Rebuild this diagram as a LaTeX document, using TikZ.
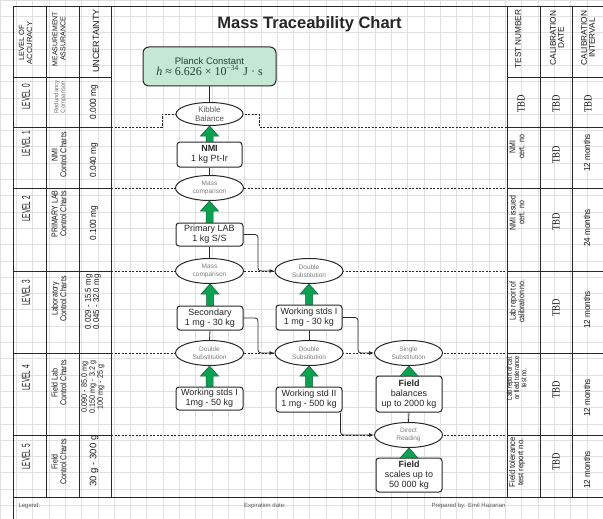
\documentclass[tikz,border=0pt]{standalone}
\usepackage{fontspec}
\setmainfont{Liberation Sans}
\newfontfamily\condA{Liberation Sans}[FakeStretch=0.56]
\newfontfamily\condB{Liberation Sans}[FakeStretch=0.82]
\newfontfamily\condC{Liberation Sans}[FakeStretch=0.92]
\newfontfamily\serifcond{Liberation Serif}[FakeStretch=0.8]
\newfontfamily\serifplain{Liberation Serif}
\usetikzlibrary{shapes.geometric,arrows.meta,calc}

\definecolor{gridgray}{RGB}{224,224,224}
\definecolor{rulegray}{RGB}{40,40,40}
\definecolor{mint}{RGB}{196,232,212}
\definecolor{mintink}{RGB}{30,70,50}
\definecolor{arrowfill}{RGB}{10,162,80}
\definecolor{arrowedge}{RGB}{20,95,55}
\definecolor{ovaltext}{RGB}{125,125,125}

\tikzset{
  gridline/.style={gridgray, line width=0.5pt},
  rule/.style={rulegray, line width=0.9pt},
  stdbox/.style={draw=rulegray, line width=1pt, rounded corners=3pt, fill=white,
    align=center, inner sep=0pt, text=black!85, font=\fontsize{9}{10.2}\selectfont},
  oval/.style={ellipse, draw=rulegray, line width=1pt, fill=white, inner sep=0pt,
    minimum width=68pt, minimum height=25pt, align=center, text=ovaltext,
    font=\fontsize{6.5}{8.5}\selectfont},
  levelline/.style={rulegray, line width=0.8pt, dash pattern=on 2.2pt off 1.3pt},
  link/.style={rulegray, line width=0.8pt},
  feed/.style={rulegray, line width=0.8pt, rounded corners=3pt, -{Latex[length=5pt,width=4pt]}},
  uptag/.style={rotate=90, align=center, inner sep=0pt, text=black!90},
  liftarrow/.style={fill=arrowfill, draw=arrowedge, line width=0.5pt, line join=miter},
}
% green block arrow from the top of #1 up to the bottom of #2
\newcommand\liftarrow[2]{%
  \filldraw[liftarrow] let \p1=(#1.north), \p2=(#2.south) in
    (\x1-3.5pt,\y1) -- (\x1-3.5pt,\y2-10pt) -- (\x1-9pt,\y2-10pt) -- (\x1,\y2)
    -- (\x1+9pt,\y2-10pt) -- (\x1+3.5pt,\y2-10pt) -- (\x1+3.5pt,\y1) -- cycle;}

\begin{document}
\begin{tikzpicture}[x=1pt,y=-1pt]
\useasboundingbox (0,0) rectangle (603,519);
\fill[white] (0,0) rectangle (603,519);

% drawing-sheet grid
\foreach \i in {0,...,37} \draw[gridline] (\i*16.3,0) -- (\i*16.3,519);
\foreach \j in {0,...,31} \draw[gridline] (0,\j*16.3) -- (603,\j*16.3);

% table frame
\draw[rule] (13,519) -- (13,6) -- (606,6);
\draw[rule] (13,497) -- (606,497);
\foreach \x in {46,79,111,507,540,572} \draw[rule] (\x,6) -- (\x,497);
\foreach \y in {77,127,188,271,353,435} {
  \draw[rule] (13,\y) -- (111,\y);
  \draw[rule] (507,\y) -- (606,\y);
}

% title
\node[font=\bfseries\fontsize{16.5}{18}\selectfont, text=black!85, anchor=base] (title) at (309.5,28.5) {Mass Traceability Chart};

% left columns: headers
\node[uptag, font=\fontsize{7.5}{8}\selectfont] (hacc) at (25.5,43) {LEVEL OF\\ACCURACY};
\node[uptag, font=\fontsize{7}{8}\selectfont] (hmas) at (59,39) {MEASUREMENT\\ASSURANCE};
\node[uptag, font=\fontsize{9}{10}\selectfont] (hunc) at (96,41) {UNCERTAINTY};

% left columns: level names
\node[uptag, font=\condA\fontsize{11.5}{12}\selectfont] (lv0) at (26,97) {LEVEL 0};
\node[uptag, font=\condA\fontsize{11.5}{12}\selectfont] (lv1) at (26,144) {LEVEL 1};
\node[uptag, font=\condA\fontsize{11.5}{12}\selectfont] (lv2) at (26,209) {LEVEL 2};
\node[uptag, font=\condA\fontsize{11.5}{12}\selectfont] (lv3) at (26,293) {LEVEL 3};
\node[uptag, font=\condA\fontsize{11.5}{12}\selectfont] (lv4) at (26,378) {LEVEL 4};
\node[uptag, font=\condA\fontsize{11.5}{12}\selectfont] (lv5) at (26,457) {LEVEL 5};

% left columns: measurement assurance
\node[uptag, text=black!55, font=\fontsize{6}{6.5}\selectfont] (ma0) at (60,97) {Redundancy\\Comparison};
\node[uptag, font=\condB\fontsize{8.6}{8.8}\selectfont] (ma1) at (59,155) {NMI\\Control Charts};
\node[uptag, font=\condB\fontsize{8.6}{8.8}\selectfont] (ma2) at (59,214) {PRIMARY LAB\\Control Charts};
\node[uptag, font=\condB\fontsize{8.6}{8.8}\selectfont] (ma3) at (59,299) {Laboratory\\Control Charts};
\node[uptag, font=\condB\fontsize{8.6}{8.8}\selectfont] (ma4) at (59,383) {Field Lab\\Control Charts};
\node[uptag, font=\condB\fontsize{8.6}{8.8}\selectfont] (ma5) at (59,462) {Field\\Control Charts};

% left columns: uncertainty
\node[uptag, font=\condC\fontsize{9}{9}\selectfont] (un0) at (94,102) {0.000 mg};
\node[uptag, font=\condC\fontsize{9}{9}\selectfont] (un1) at (94,160) {0.040 mg};
\node[uptag, font=\condC\fontsize{9}{9}\selectfont] (un2) at (94,223) {0.100 mg};
\node[uptag, font=\condC\fontsize{8.5}{8.2}\selectfont] (un3) at (93,302) {0.029 - 15.5 mg\\0.045 - 32.0 mg};
\node[uptag, font=\condC\fontsize{7.8}{6.8}\selectfont] (un4) at (93,387) {0.090 - 85.0 mg\\0.150 mg - 3.2 g\\100 mg - 25 g};
\node[uptag, font=\fontsize{9.5}{10}\selectfont] (un5) at (94,461) {30 g - 300 g};

% right columns: headers
\node[uptag, font=\fontsize{8.2}{9}\selectfont] (htest) at (518,39) {TEST NUMBER};
\node[uptag, font=\fontsize{8.3}{8}\selectfont] (hdate) at (557,38) {CALIBRATION\\DATE};
\node[uptag, font=\fontsize{8.3}{8}\selectfont] (hint) at (588,38) {CALIBRATION\\INTERVAL};

% right columns: test number
\node[uptag, font=\serifcond\fontsize{11}{11}\selectfont] (tn0) at (521,104) {TBD};
\node[uptag, font=\condB\fontsize{8.5}{8.8}\selectfont] (tn1) at (517,147) {NMI\\cert. no};
\node[uptag, font=\condB\fontsize{8.5}{8.8}\selectfont] (tn2) at (517,213) {NMI issued\\cert. no};
\node[uptag, font=\condB\fontsize{8.5}{8.8}\selectfont] (tn3) at (517,301) {Lab report of\\calibration no.};
\node[uptag, font=\condB\fontsize{7.2}{7.2}\selectfont] (tn4) at (516.5,378) {Lab report of cal.\\or field tolerance\\test no.};
\node[uptag, font=\condC\fontsize{8.3}{8.3}\selectfont] (tn5) at (517,462) {Field tolerance\\test report no.};

% right columns: calibration date
\node[uptag, font=\serifcond\fontsize{11}{11}\selectfont] (cd0) at (556,104) {TBD};
\node[uptag, font=\serifcond\fontsize{11}{11}\selectfont] (cd1) at (556,155) {TBD};
\node[uptag, font=\serifcond\fontsize{11}{11}\selectfont] (cd2) at (556,222) {TBD};
\node[uptag, font=\serifcond\fontsize{11}{11}\selectfont] (cd3) at (556,308) {TBD};
\node[uptag, font=\serifcond\fontsize{11}{11}\selectfont] (cd4) at (556,390) {TBD};
\node[uptag, font=\serifcond\fontsize{11}{11}\selectfont] (cd5) at (556,462) {TBD};

% right columns: calibration interval
\node[uptag, font=\serifcond\fontsize{11}{11}\selectfont] (ci0) at (588,104) {TBD};
\node[uptag, font=\condC\fontsize{8.8}{9}\selectfont] (ci1) at (587,153) {12 months};
\node[uptag, font=\condC\fontsize{8.8}{9}\selectfont] (ci2) at (587,228) {24 months};
\node[uptag, font=\condC\fontsize{8.8}{9}\selectfont] (ci3) at (587,310) {12 months};
\node[uptag, font=\condC\fontsize{8.8}{9}\selectfont] (ci4) at (587,398) {12 months};
\node[uptag, font=\condC\fontsize{8.8}{9}\selectfont] (ci5) at (587,470) {12 months};

% footer
\node[anchor=west, font=\fontsize{6}{7}\selectfont, text=black!65] (legend) at (15,506) {Legend:};
\node[font=\fontsize{6}{7}\selectfont, text=black!65] (expiry) at (265,506) {Expiration date:};
\node[anchor=west, font=\fontsize{6}{7}\selectfont, text=black!65] (author) at (428,506) {Prepared by: Emil Hazarian};

% free ends of the level separators and connector bends
\coordinate (b0l) at (111,127); \coordinate (b0r) at (507,127);
\coordinate (s0a) at (162,127); \coordinate (s0b) at (259,127);
\coordinate (b1l) at (111,188); \coordinate (b1r) at (507,188);
\coordinate (b2l) at (111,271); \coordinate (b2r) at (507,271);
\coordinate (b3l) at (111,353); \coordinate (b3r) at (507,353);
\coordinate (b4l) at (111,435); \coordinate (b4r) at (507,435);
\coordinate (j1) at (258,271);
\coordinate (j2) at (258,353);
\coordinate (j3) at (358,353);

% level separators (drawn first so that the ovals sit on them)
\draw[levelline] (b0l) -- (s0a) |- (209.5,114);
\draw[levelline] (209.5,114) -| (s0b) -- (b0r);
\draw[levelline] (b1l) -- (b1r);
\draw[levelline] (b2l) -- (b2r);
\draw[levelline] (b3l) -- (b3r);
\draw[levelline] (b4l) -- (b4r);

% Planck constant and the standards chain
\node[stdbox, fill=mint, rounded corners=6pt, minimum width=133pt, minimum height=39pt, text=mintink] (planck) at (209.5,66.5)
  {\fontsize{9.5}{11}\selectfont Planck Constant\\[1pt]
   {\serifplain\fontsize{12}{13}\selectfont\textit{h} ≈ 6.626 × 10\raisebox{4.5pt}{\fontsize{7.5}{8}\selectfont −34}\, J · s}};

\node[oval, minimum width=67pt, minimum height=23pt, text=black!65, font=\fontsize{8}{9}\selectfont] (kibble) at (209.5,114) {Kibble\\Balance};

\node[stdbox, minimum width=65pt, minimum height=25pt] (nmi) at (209.5,154.5) {\textbf{NMI}\\1 kg Pt-Ir};
\node[stdbox, minimum width=67pt, minimum height=23pt] (plab) at (209.5,234.5) {Primary LAB\\1 kg S/S};
\node[stdbox, minimum width=66pt, minimum height=24pt] (second) at (210,318) {Secondary\\1 mg - 30 kg};
\node[stdbox, minimum width=66pt, minimum height=25pt] (wsa) at (309,317.5) {Working stds I\\1 mg - 30 kg};
\node[stdbox, minimum width=67pt, minimum height=23pt] (wsb) at (209.5,398.5) {Working stds I\\1mg - 50 kg};
\node[stdbox, minimum width=66pt, minimum height=25pt] (wsc) at (309,399.5) {Working std II\\1 mg - 500 kg};
\node[stdbox, minimum width=66pt, minimum height=36pt] (fbal) at (409,394) {\textbf{Field}\\balances\\up to 2000 kg};
\node[stdbox, minimum width=66pt, minimum height=34pt] (fscale) at (409,475) {\textbf{Field}\\scales up to\\50 000 kg};

\node[oval] (mc1) at (209.5,188) {Mass\\comparison};
\node[oval] (mc2) at (209.5,271) {Mass\\comparison};
\node[oval] (ds2) at (309,271) {Double\\Substitution};
\node[oval] (ds3a) at (209.5,353) {Double\\Substitution};
\node[oval] (ds3b) at (309,353) {Double\\Substitution};
\node[oval] (ss) at (408.5,353) {Single\\Substitution};
\node[oval] (dr) at (408.5,435) {Direct\\Reading};

% thin links from each standard down to its comparison
\draw[link] (planck.south) -- (kibble.north);
\draw[link] (nmi.south) -- (mc1.north);
\draw[link] (plab.south) -- (mc2.north);
\draw[link] (second.south) -- (ds3a.north);
\draw[link] (wsa.south) -- (ds3b.north);
\draw[link] (fbal.south) -- (dr.north);

% side feeds into the next comparison
\draw[feed] (plab.east) -| (j1) -- (ds2.west);
\draw[feed] (second.east) -| (j2) -- (ds3b.west);
\draw[feed] (wsa.east) -| (j3) -- (ss.west);
\draw[feed] ([xshift=31.5pt]wsc.south) |- (dr.west);

% traceability arrows
\liftarrow{nmi}{kibble}
\liftarrow{plab}{mc1}
\liftarrow{second}{mc2}
\liftarrow{wsa}{ds2}
\liftarrow{wsb}{ds3a}
\liftarrow{wsc}{ds3b}
\liftarrow{fbal}{ss}
\liftarrow{fscale}{dr}
\end{tikzpicture}
\end{document}
